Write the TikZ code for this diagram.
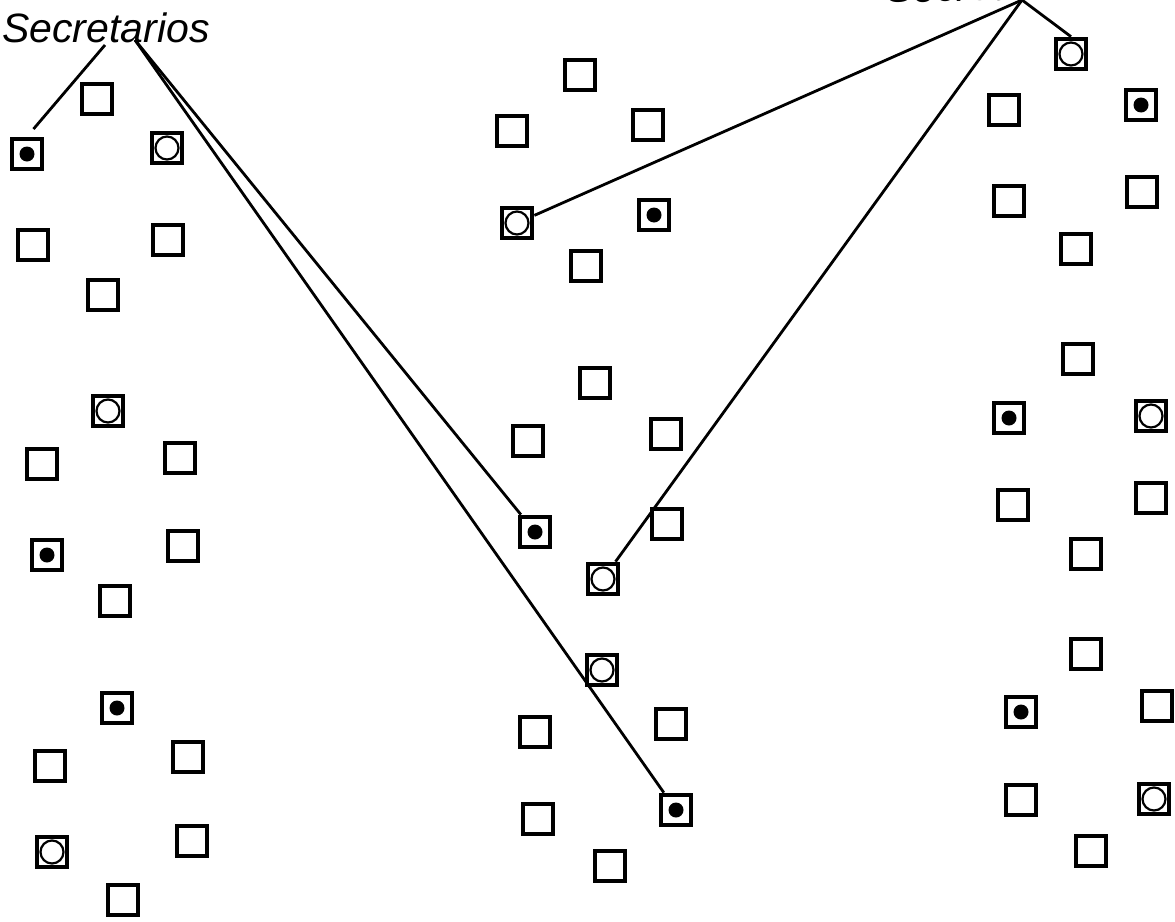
\documentclass[tikz,border=0pt]{standalone}
\usepackage{fontspec}
\setmainfont{Liberation Sans}

\begin{document}
\begin{tikzpicture}[x=1pt,y=-1pt,
every node/.style={font=\itshape\fontsize{41}{41}\selectfont},
seat/.style={draw,line width=4.2pt,minimum size=30.5pt,inner sep=0pt},
seatdot/.style={seat,path picture={\fill (path picture bounding box.center) circle (7.5pt);}},
seatring/.style={seat,path picture={\draw[line width=2.2pt] (path picture bounding box.center) circle (11.5pt);}},
link/.style={line width=2.8pt}
]
\fill[white,use as bounding box] (0,0) rectangle (1175,921);

\node[anchor=base west,inner sep=0pt] (secl) at (2,42)  {Secretarios};
\node[anchor=base west,inner sep=0pt,rotate=1.5] (secr) at (886,3) {Secretarios};
\coordinate (secl-c) at (105,45);
\coordinate (secl-a) at (135,40);
\coordinate (secr-a) at (1022,0);

\node[seat]     (l1)  at (97,99)   {};
\node[seatdot]  (l2)  at (27,154)  {};
\node[seatring] (l3)  at (167,148) {};
\node[seat]     (l4)  at (33,245)  {};
\node[seat]     (l5)  at (168,240) {};
\node[seat]     (l6)  at (103,295) {};
\node[seatring] (l7)  at (108,411) {};
\node[seat]     (l8)  at (42,464)  {};
\node[seat]     (l9)  at (180,458) {};
\node[seatdot]  (l10) at (47,555)  {};
\node[seat]     (l11) at (183,546) {};
\node[seat]     (l12) at (115,601) {};
\node[seatdot]  (l13) at (117,708) {};
\node[seat]     (l14) at (50,766)  {};
\node[seat]     (l15) at (188,757) {};
\node[seatring] (l16) at (52,852)  {};
\node[seat]     (l17) at (192,841) {};
\node[seat]     (l18) at (123,900) {};

\node[seat]     (m1)  at (580,75)  {};
\node[seat]     (m2)  at (512,131) {};
\node[seat]     (m3)  at (648,125) {};
\node[seatring] (m4)  at (517,223) {};
\node[seatdot]  (m5)  at (654,215) {};
\node[seat]     (m6)  at (586,266) {};
\node[seat]     (m7)  at (595,383) {};
\node[seat]     (m8)  at (528,441) {};
\node[seat]     (m9)  at (666,434) {};
\node[seatdot]  (m10) at (535,532) {};
\node[seat]     (m11) at (667,524) {};
\node[seatring] (m12) at (603,579) {};
\node[seatring] (m13) at (602,670) {};
\node[seat]     (m14) at (535,732) {};
\node[seat]     (m15) at (671,724) {};
\node[seat]     (m16) at (538,819) {};
\node[seatdot]  (m17) at (676,810) {};
\node[seat]     (m18) at (610,866) {};

\node[seatring] (r1)  at (1071,54)  {};
\node[seat]     (r2)  at (1004,110) {};
\node[seatdot]  (r3)  at (1141,105) {};
\node[seat]     (r4)  at (1009,201) {};
\node[seat]     (r5)  at (1142,192) {};
\node[seat]     (r6)  at (1076,249) {};
\node[seat]     (r7)  at (1078,359) {};
\node[seatdot]  (r8)  at (1009,418) {};
\node[seatring] (r9)  at (1151,416) {};
\node[seat]     (r10) at (1013,505) {};
\node[seat]     (r11) at (1151,498) {};
\node[seat]     (r12) at (1086,554) {};
\node[seat]     (r13) at (1086,654) {};
\node[seatdot]  (r14) at (1021,712) {};
\node[seat]     (r15) at (1157,706) {};
\node[seat]     (r16) at (1021,800) {};
\node[seatring] (r17) at (1154,799) {};
\node[seat]     (r18) at (1091,851) {};

\draw[link,shorten >=10pt] (secl-c) -- (l2.north);
\draw[link] (secl-a) -- (m10);
\draw[link] (secl-a) -- (m17);
\draw[link] (secr-a) -- (m4);
\draw[link] (secr-a) -- (m12);
\draw[link] (secr-a) -- (r1.north);
\end{tikzpicture}
\end{document}
